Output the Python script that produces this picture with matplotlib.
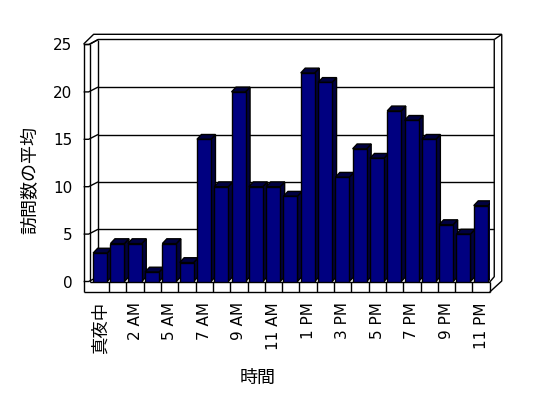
import matplotlib
matplotlib.use("Agg")
import matplotlib.pyplot as plt
from matplotlib.patches import Polygon

plt.rcParams['font.family'] = ['DejaVu Sans', 'Noto Sans CJK JP']

# data
hours = ["真夜中", "1 AM", "2 AM", "3 AM", "5 AM", "6 AM", "7 AM", "8 AM",
         "9 AM", "10 AM", "11 AM", "12 PM", "1 PM", "2 PM", "3 PM", "4 PM",
         "5 PM", "6 PM", "7 PM", "8 PM", "9 PM", "10 PM", "11 PM"]
visits = [3, 4, 4, 1, 4, 2, 15, 10, 20, 10, 10, 9,
          22, 21, 11, 14, 13, 18, 17, 15, 6, 5, 8]
yticks = [0, 5, 10, 15, 20, 25]

W, H = 548, 398
SX, SY = 17.3, 9.48      # pixels per category / per unit
X0, Y0 = 100.5, 281.5    # pixel position of x=0, y=0
n = len(visits)


def dx(p):
    return p / SX


def dy(p):
    return p / SY


fig = plt.figure(figsize=(W / 100, H / 100), dpi=100)
ax = fig.add_axes([(X0 - 0.5 * SX) / W, (H - Y0) / H, n * SX / W, 25 * SY / H])
ax.set_xlim(-0.5, n - 0.5)
ax.set_ylim(0, 25)
ax.patch.set_visible(False)
for s in ax.spines.values():
    s.set_visible(False)

lk = dict(color='black', lw=1, clip_on=False, solid_capstyle='butt')
xL = -0.5 - dx(8.2)
xLi = -0.5 - dx(1.5)
xB = -0.5 + dx(6.2)
xBR = n - 0.5 + dx(4.5)
xO = n - 0.5 + dx(12)
xR = n - 0.5
yT = 25 + dy(10.2)
yBT = 25 + dy(5)
yLT = 25 + dy(0.5)
yF = -dy(10.5)
yFt = -dy(0.5)
bw = dy(4.8)

# walls
ax.plot([xL, xL], [yF, yLT], **lk)
ax.plot([xLi, xLi], [yFt, yLT], **lk)
ax.plot([xL, xLi], [yLT, yLT], **lk)
ax.plot([xL, xL + dx(10), xO], [yLT, yT, yT], **lk)
ax.plot([xLi, xB, xBR], [yLT, yBT, yBT], **lk)
ax.plot([xB, xB], [yBT, bw], **lk)
ax.plot([xBR, xO], [yBT, yT], **lk)
ax.plot([xBR, xBR, xR], [yBT, bw, yFt], **lk)
ax.plot([xO, xO, xR], [yT, dy(0.5), yF], **lk)

# gridlines and left ticks
for v in yticks[1:-1]:
    ax.plot([xB, xBR], [v + bw, v + bw], zorder=1, **lk)
for v in yticks:
    ax.plot([xL, xL + dx(5), xB], [v, v, v + bw], **lk)

# floor
ax.plot([xLi, xR], [yFt, yFt], **lk)
ax.plot([xL, xR], [yF, yF], **lk)
for i in range(n):
    ax.plot([i + 0.5, i + 0.5], [yFt, yF], **lk)

# bars
bwid = 0.81
ddx, ddy = dx(4.5), dy(4.8)
for i, v in enumerate(visits):
    l, r = i - bwid / 2 - 0.02, i + bwid / 2 - 0.02
    side = Polygon([(r, 0), (r, v), (r + ddx, v + ddy), (r + ddx, ddy)],
                   closed=True, facecolor='#000040', edgecolor='black', lw=1, zorder=2)
    top = Polygon([(l, v), (r, v), (r + ddx, v + ddy), (l + ddx, v + ddy)],
                  closed=True, facecolor='#000040', edgecolor='black', lw=1, zorder=2)
    ax.add_patch(side)
    ax.add_patch(top)
ax.bar([i - 0.02 for i in range(n)], visits, width=bwid, color='#000080',
       edgecolor='black', lw=1, zorder=3)

ax.set_yticks(yticks)
ax.set_yticklabels([str(v) for v in yticks], fontsize=11)
ax.set_xticks(range(0, n, 2))
ax.set_xticklabels(hours[::2], rotation=90, fontsize=11, va='top')
ax.get_xticklabels()[0].set_fontsize(12.5)
ax.tick_params(axis='y', length=0, pad=14)
ax.tick_params(axis='x', length=0, pad=15)

fig.text(30 / W, 1 - 180 / H, "訪問数の平均", rotation=90, fontsize=13,
         ha='center', va='center')
fig.text(258 / W, 1 - 378 / H, "時間", fontsize=13, ha='center', va='center')

fig.savefig("out.png", dpi=100, facecolor='white')
